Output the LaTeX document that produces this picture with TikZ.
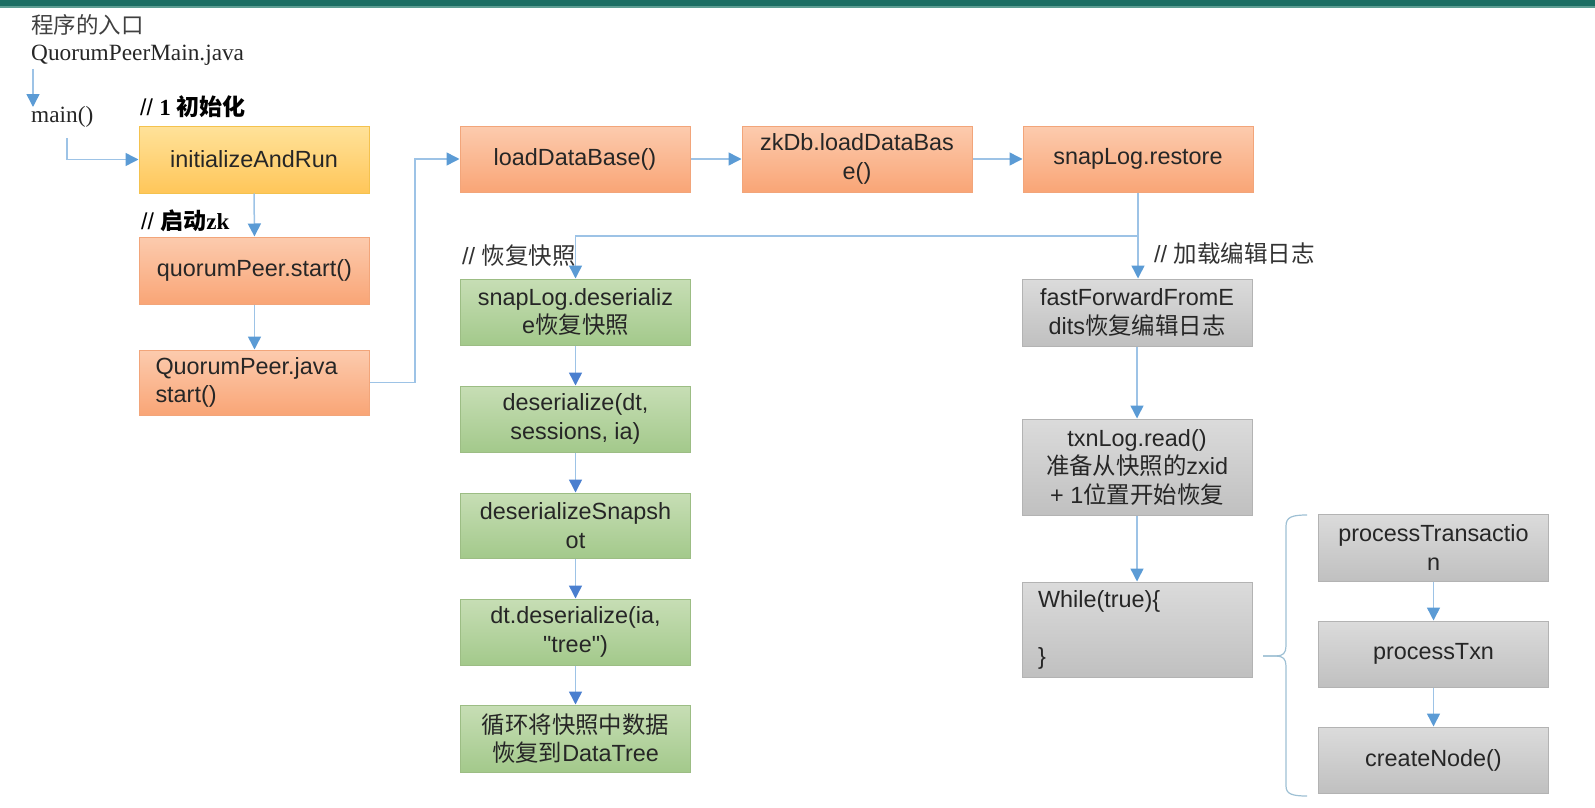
\documentclass[tikz,border=0pt]{standalone}
\usepackage{fontspec}
\setmainfont{Liberation Serif}
\newfontfamily\sansf{Liberation Sans}
\newfontfamily\cjk{Noto Sans CJK SC}
\usetikzlibrary{arrows.meta,calc}
\definecolor{teal1}{HTML}{1C6E63}
\definecolor{teal2}{HTML}{5E9E93}
\definecolor{txt}{HTML}{262626}
\definecolor{lbltxt}{HTML}{333333}
\definecolor{ytop}{HTML}{FFE29A}
\definecolor{ybot}{HTML}{FFC659}
\definecolor{ybd}{HTML}{F4C24E}
\definecolor{otop}{HTML}{FCCBAE}
\definecolor{obot}{HTML}{F9A576}
\definecolor{obd}{HTML}{F2A57A}
\definecolor{gtop}{HTML}{C7DEB5}
\definecolor{gbot}{HTML}{A3C98B}
\definecolor{gbd}{HTML}{9CBD84}
\definecolor{ktop}{HTML}{DBDBDB}
\definecolor{kbot}{HTML}{C0C0C0}
\definecolor{kbd}{HTML}{B3B3B3}
\definecolor{lineblue}{HTML}{9DC3E6}
\definecolor{tipblue}{HTML}{5B9BD5}
\definecolor{tipblue2}{HTML}{4A7FCF}
\definecolor{bracec}{HTML}{9EC0D4}
\tikzset{
  box/.style={draw, line width=1pt, minimum width=230pt, minimum height=66pt,
    inner xsep=6pt, inner ysep=0pt, text=txt, align=center,
    font=\sansf\fontsize{23.4}{28.5}\selectfont},
  ybox/.style={box, draw=ybd, top color=ytop, bottom color=ybot},
  obox/.style={box, draw=obd, top color=otop, bottom color=obot},
  gbox/.style={box, draw=gbd, top color=gtop, bottom color=gbot},
  kbox/.style={box, draw=kbd, top color=ktop, bottom color=kbot},
  arr/.style={draw=lineblue, line width=1.5pt,
    -{Triangle[length=13pt,width=13pt,color=tipblue]}},
  garr/.style={draw=lineblue, line width=1.5pt,
    -{Triangle[length=13pt,width=13pt,color=tipblue2]}},
  lbl/.style={inner sep=0pt, anchor=west, text=lbltxt},
}
\begin{document}
\begin{tikzpicture}[x=1pt,y=-1pt]
\useasboundingbox (0,0) rectangle (1595,808);
\fill[teal1] (0,0) rectangle (1595,6);
\fill[teal2] (0,6) rectangle (1595,8);

% top-left texts
\node[lbl, font=\cjk\fontsize{22.5}{26}\selectfont, text=black!75] (entry) at (31,25) {程序的入口};
\node[lbl, font=\fontsize{23.3}{27}\selectfont, text=black!85] (qpm) at (31,55) {QuorumPeerMain.java};
\node[lbl, font=\fontsize{23.3}{27}\selectfont, text=black!85] (main) at (31,117) {main()};
\coordinate (q1) at (33,69);
\coordinate (m1) at (67,138);

% labels
\node[lbl, text=black] (l1) at (140,107) {\fontsize{23}{26}\selectfont\sansf// \rmfamily\bfseries 1 \cjk 初始化};
\node[lbl, text=black] (l2) at (141,221) {\fontsize{23}{26}\selectfont\sansf// \cjk\bfseries 启动\rmfamily zk};
\node[lbl] (l3) at (462,256) {\fontsize{23.5}{26}\selectfont\sansf// \cjk 恢复快照};
\node[lbl] (l4) at (1154,254) {\fontsize{23.5}{26}\selectfont\sansf// \cjk 加载编辑日志};

% left column
\node[ybox, minimum height=67pt] (init) at (254,159.5) {initializeAndRun};
\node[obox, minimum height=67pt] (qps) at (254.5,270.5) {quorumPeer.start()};
\node[obox, minimum height=65pt, text width=198pt, inner xsep=16pt, align=left] (qpj) at (254.5,382.5) {QuorumPeer.java\\start()};

% top row
\node[obox] (load) at (575,159) {loadDataBase()};
\node[obox] (zkdb) at (857,159) {zkDb.loadDataBas\\e()};
\node[obox] (rest) at (1138,159) {snapLog.restore};

% green column
\node[gbox] (g1) at (575.5,312) {snapLog.deserializ\\e{\cjk 恢复快照}};
\node[gbox] (g2) at (575.5,419) {deserialize(dt,\\sessions, ia)};
\node[gbox, minimum height=65pt] (g3) at (575.5,525.5) {deserializeSnapsh\\ot};
\node[gbox] (g4) at (575.5,632) {dt.deserialize(ia,\\"tree")};
\node[gbox, minimum height=67pt] (g5) at (575.5,738.5) {{\cjk 循环将快照中数据}\\{\cjk 恢复到}DataTree};

% gray middle column
\node[kbox, minimum height=67pt] (ff) at (1137,312.5) {fastForwardFromE\\dits{\cjk 恢复编辑日志}};
\node[kbox, minimum height=96pt] (txn) at (1137,467) {txnLog.read()\\{\cjk 准备从快照的}zxid\\+ 1{\cjk 位置开始恢复}};
\node[kbox, minimum height=95pt, text width=198pt, inner xsep=16pt, align=left] (wh) at (1137,629.5) {While(true)\{\\[0pt]\mbox{}\\\}};

% right column
\node[kbox, minimum height=67pt] (pt) at (1433.5,547.5) {processTransactio\\n};
\node[kbox] (ptx) at (1433.5,654) {processTxn};
\node[kbox] (cn) at (1433.5,760) {createNode()};

% brace
\draw[bracec, line width=1.2pt]
  (1307,515) .. controls (1292,515) and (1286,517) .. (1286,526)
  -- (1286,646) .. controls (1286,653) and (1283,656) .. (1276,656) -- (1263,656);
\draw[bracec, line width=1.2pt]
  (1263,656) -- (1276,656) .. controls (1283,656) and (1286,659) .. (1286,666)
  -- (1286,786) .. controls (1286,794) and (1292,796) .. (1307,796);

% connectors
\draw[arr] (q1) -- (33,107);
\draw[arr] (m1) |- (init.west);
\draw[arr] (init.south) -- (qps.north);
\draw[arr] (qps.south) -- (qpj.north);
\draw[arr] (qpj.east) -- ++(45,0) |- (load.west);
\draw[arr] (load.east) -- (zkdb.west);
\draw[arr] (zkdb.east) -- (rest.west);
\coordinate (jn) at (1138,236);
\draw[arr] (rest.south) -- (ff.north -| rest.south);
\draw[arr] (jn) -| (g1.north);
\draw[garr] (g1.south) -- (g2.north);
\draw[garr] (g2.south) -- (g3.north);
\draw[garr] (g3.south) -- (g4.north);
\draw[garr] (g4.south) -- (g5.north);
\draw[arr] (ff.south) -- (txn.north);
\draw[arr] (txn.south) -- (wh.north);
\draw[arr] (pt.south) -- (ptx.north);
\draw[arr] (ptx.south) -- (cn.north);
\end{tikzpicture}
\end{document}
